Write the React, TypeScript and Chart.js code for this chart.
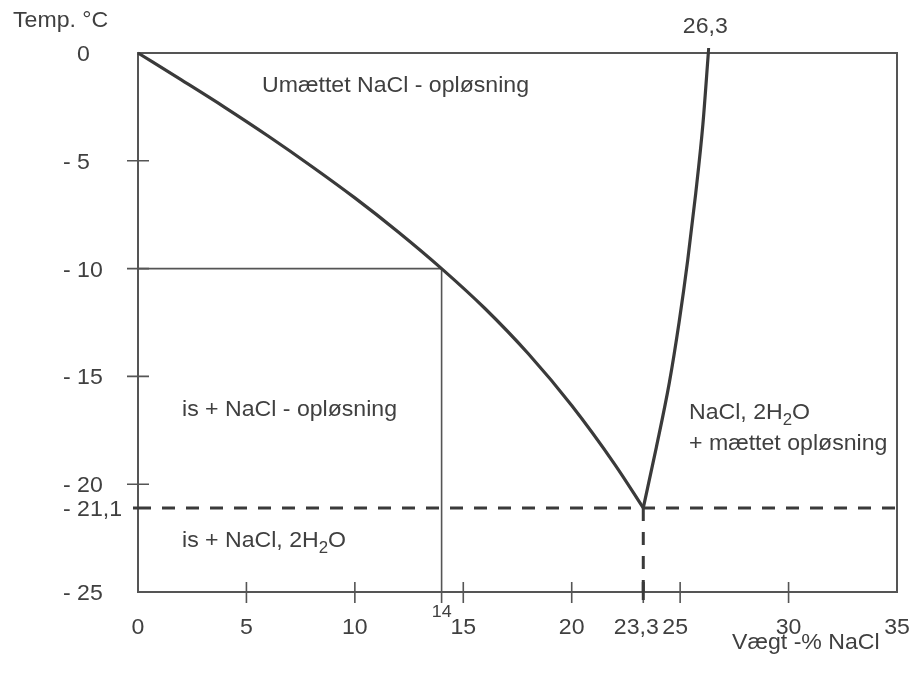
import { useEffect, useRef } from 'react';
import { Chart, registerables } from 'chart.js';
Chart.register(...registerables);

// Liquidus (ice + solution boundary)
const liquidusX = [0, 2, 4, 6, 8, 10, 12, 14, 16, 18, 20, 22, 23.3];
const liquidusT = [0, -1.25, -2.52, -3.85, -5.25, -6.72, -8.3, -10.0, -11.85, -13.95, -16.35, -19.1, -21.1];
// Solubility curve of NaCl·2H2O
const solubilityX = [23.3, 23.9, 24.5, 24.95, 25.35, 25.72, 26.05, 26.3];
const solubilityT = [-21.1, -18.3, -15.3, -12.5, -9.6, -6.5, -3.3, 0];
// Reference values
const exampleX = 14;
const exampleT = -10;
const eutecticX = 23.3;
const eutecticT = -21.1;
const saturationX = 26.3;

const xTicks = [5, 10, 15, 20, 23.3, 25, 30];
const xLabelValues = [0, 5, 10, 15, 20, 23.3, 25, 30, 35];
const xLabels = ['0', '5', '10', '15', '20', '23,3', '25', '30', '35'];
const yTicks = [-5, -10, -15, -20];
const yLabelValues = [0, -5, -10, -15, -20, -21.1, -25];
const yLabels = ['0', '- 5', '- 10', '- 15', '- 20', '- 21,1', '- 25'];

const FONT = '"Liberation Sans", Arial, sans-serif';
const SX = 1.05;
const FS = 22;
const TEXT = '#404040';

type Seg = { t: string; sub?: boolean };

function drawRich(ctx: CanvasRenderingContext2D, segs: Seg[], x: number, y: number, size: number, align: 'left' | 'center' | 'right' = 'left') {
  ctx.save();
  const subSize = Math.round(size * 0.72);
  const widths = segs.map((s) => {
    ctx.font = `${s.sub ? subSize : size}px ${FONT}`;
    return ctx.measureText(s.t).width * SX;
  });
  const total = widths.reduce((a, b) => a + b, 0);
  let cx = align === 'left' ? x : align === 'center' ? x - total / 2 : x - total;
  ctx.fillStyle = TEXT;
  ctx.textBaseline = 'alphabetic';
  ctx.textAlign = 'left';
  segs.forEach((s, i) => {
    ctx.font = `${s.sub ? subSize : size}px ${FONT}`;
    ctx.save();
    ctx.translate(cx, y + (s.sub ? 6 : 0));
    ctx.scale(SX, 1);
    ctx.fillText(s.t, 0, 0);
    ctx.restore();
    cx += widths[i];
  });
  ctx.restore();
  return total;
}

const drawText = (ctx: CanvasRenderingContext2D, t: string, x: number, y: number, size: number, align: 'left' | 'center' | 'right' = 'left') =>
  drawRich(ctx, [{ t }], x, y, size, align);

const labelShift: Record<string, number> = { '23,3': -7, '25': -5 };

const decorPlugin = {
  id: 'decor',
  beforeDatasetsDraw(chart: any) {
    const { ctx, chartArea: a, scales } = chart;
    const xs = scales.x;
    const ys = scales.y;
    ctx.save();
    ctx.strokeStyle = '#555';
    ctx.lineWidth = 2;
    ctx.strokeRect(a.left, a.top, a.right - a.left, a.bottom - a.top);
    ctx.lineWidth = 1.6;
    ctx.beginPath();
    xTicks.forEach((v) => {
      const px = xs.getPixelForValue(v);
      ctx.moveTo(px, a.bottom - 10);
      ctx.lineTo(px, a.bottom + 11);
    });
    const p14 = xs.getPixelForValue(exampleX);
    ctx.moveTo(p14, a.bottom);
    ctx.lineTo(p14, a.bottom + 11);
    yTicks.forEach((v) => {
      const py = ys.getPixelForValue(v);
      ctx.moveTo(a.left - 11, py);
      ctx.lineTo(a.left + 11, py);
    });
    const pm10 = ys.getPixelForValue(exampleT);
    ctx.moveTo(a.left - 11, pm10);
    ctx.lineTo(a.left, pm10);
    ctx.stroke();
    // dashed extensions beyond axes
    ctx.lineWidth = 3;
    ctx.strokeStyle = '#3a3a3a';
    ctx.beginPath();
    const pe = ys.getPixelForValue(eutecticT);
    ctx.moveTo(a.left - 5, pe);
    ctx.lineTo(a.left, pe);
    const px233 = xs.getPixelForValue(eutecticX);
    ctx.moveTo(px233, a.bottom - 10);
    ctx.lineTo(px233, a.bottom + 8);
    const ps = xs.getPixelForValue(saturationX);
    ctx.moveTo(ps, a.top);
    ctx.lineTo(ps + 0.3, a.top - 5);
    ctx.stroke();
    ctx.restore();
  },
  afterDraw(chart: any) {
    const { ctx, chartArea: a, scales } = chart;
    const xs = scales.x;
    const ys = scales.y;
    ctx.save();
    ctx.font = `${FS}px ${FONT}`;
    const prefixW = ctx.measureText('- ').width * SX;
    ctx.restore();
    // y labels
    yLabelValues.forEach((v, i) => {
      const py = ys.getPixelForValue(v);
      const lbl = yLabels[i];
      const x0 = lbl.startsWith('-') ? 63 : 63 + prefixW;
      drawText(ctx, lbl, x0, py + 8, FS, 'left');
    });
    // x labels
    xLabelValues.forEach((v, i) => {
      const px = xs.getPixelForValue(v) + (labelShift[xLabels[i]] || 0);
      drawText(ctx, xLabels[i], px, a.bottom + 42, FS, 'center');
    });
    drawText(ctx, String(exampleX), xs.getPixelForValue(exampleX) + 10, a.bottom + 25, 17, 'right');
    drawText(ctx, String(saturationX).replace('.', ','), xs.getPixelForValue(saturationX) - 3, a.top - 20, FS, 'center');
    // axis titles
    drawText(ctx, 'Temp. °C', 13, 27, FS, 'left');
    drawText(ctx, 'Vægt -% NaCl', 732, 649, FS, 'left');
    // region labels
    drawText(ctx, 'Umættet NaCl - opløsning', a.left + 124, a.top + 39, FS);
    drawText(ctx, 'is + NaCl - opløsning', a.left + 44, a.top + 363, FS);
    drawRich(ctx, [{ t: 'is + NaCl, 2H' }, { t: '2', sub: true }, { t: 'O' }], a.left + 44, a.top + 494, FS);
    drawRich(ctx, [{ t: 'NaCl, 2H' }, { t: '2', sub: true }, { t: 'O' }], a.left + 551, a.top + 366, FS);
    drawText(ctx, '+ mættet opløsning', a.left + 551, a.top + 397, FS);
  },
};

export default function App() {
  const ref = useRef<HTMLCanvasElement | null>(null);
  useEffect(() => {
    if (!ref.current) return;
    const line = (pts: { x: number; y: number }[], extra: any) => ({
      data: pts,
      showLine: true,
      pointRadius: 0,
      fill: false,
      clip: false,
      ...extra,
    });
    const chart = new Chart(ref.current, {
      type: 'scatter',
      data: {
        datasets: [
          line(liquidusX.map((x, i) => ({ x, y: liquidusT[i] })), {
            borderColor: '#3a3a3a', borderWidth: 3.2, cubicInterpolationMode: 'monotone',
          }),
          line(solubilityX.map((x, i) => ({ x, y: solubilityT[i] })), {
            borderColor: '#3a3a3a', borderWidth: 3.2, cubicInterpolationMode: 'monotone',
          }),
          line([{ x: 0, y: exampleT }, { x: exampleX, y: exampleT }], { borderColor: '#555', borderWidth: 1.6 }),
          line([{ x: exampleX, y: exampleT }, { x: exampleX, y: -25 }], { borderColor: '#555', borderWidth: 1.6 }),
          line([{ x: 0, y: eutecticT }, { x: 35, y: eutecticT }], { borderColor: '#3a3a3a', borderWidth: 3, borderDash: [13, 11] }),
          line([{ x: eutecticX, y: eutecticT }, { x: eutecticX, y: -25 }], { borderColor: '#3a3a3a', borderWidth: 3, borderDash: [13, 11] }),
        ],
      },
      options: {
        responsive: false,
        animation: false,
        layout: { padding: { left: 138, right: 24, top: 53, bottom: 83 } },
        scales: {
          x: { type: 'linear', min: 0, max: 35, display: false },
          y: { type: 'linear', min: -25, max: 0, display: false },
        },
        plugins: { legend: { display: false }, tooltip: { enabled: false } },
      },
      plugins: [decorPlugin],
    });
    return () => chart.destroy();
  }, []);
  return (
    <div style={{ position: 'absolute', left: 0, top: 0, width: 921, height: 675, background: '#fff' }}>
      <canvas ref={ref} width={921} height={675} style={{ width: 921, height: 675 }} />
    </div>
  );
}
